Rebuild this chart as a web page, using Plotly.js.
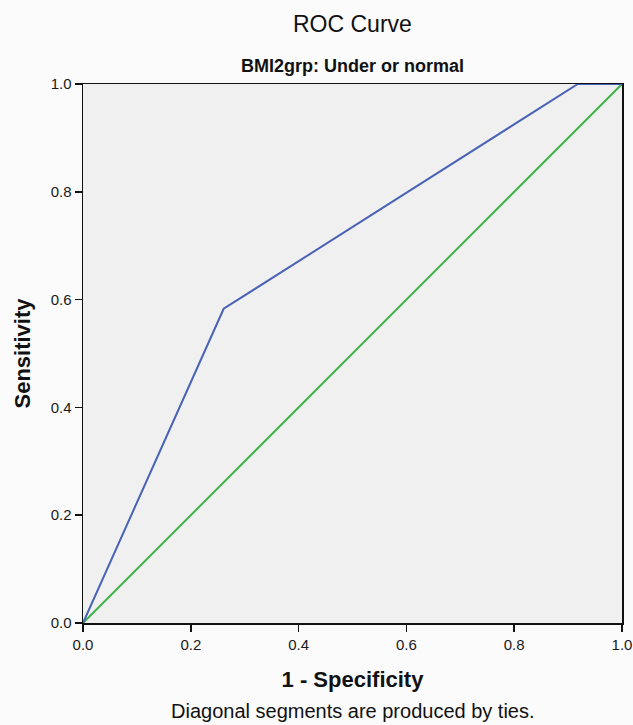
<!DOCTYPE html>
<html>
<head>
<meta charset="utf-8">
<script src="https://cdn.plot.ly/plotly-3.0.1.min.js"></script>
<style>
html,body{margin:0;padding:0;background:#fbfbfc;}
#chart{width:633px;height:725px;}
</style>
</head>
<body>
<div id="chart"></div>
<script>
// ROC curve points (1 - Specificity, Sensitivity)
const rocX = [0.0, 0.261, 0.918, 1.0];
const rocY = [0.0, 0.583, 1.0, 1.0];
// Reference diagonal
const refX = [0.0, 1.0];
const refY = [0.0, 1.0];
const tickVals = [0.0, 0.2, 0.4, 0.6, 0.8, 1.0];
const tickText = ["0.0", "0.2", "0.4", "0.6", "0.8", "1.0"];

const FONT = "Liberation Sans, Arial, sans-serif";

const traces = [
  {x: refX, y: refY, mode: "lines", line: {color: "#3fb54a", width: 2}, hoverinfo: "skip"},
  {x: rocX, y: rocY, mode: "lines", line: {color: "#4862b6", width: 2}, hoverinfo: "skip"}
];

const axisCommon = {
  range: [0, 1],
  tickvals: tickVals,
  ticktext: tickText,
  ticks: "outside",
  ticklen: 7,
  tickwidth: 1.5,
  tickcolor: "#111",
  showline: true,
  linecolor: "#111",
  linewidth: 1.5,
  mirror: true,
  showgrid: false,
  zeroline: false,
  tickfont: {family: FONT, size: 15, color: "#1a1a1a"}
};

const layout = {
  width: 633,
  height: 725,
  paper_bgcolor: "#fbfbfc",
  plot_bgcolor: "#f0f0f0",
  showlegend: false,
  margin: {l: 83, r: 11, t: 84, b: 102},
  xaxis: Object.assign({}, axisCommon, {
    automargin: false,
    title: {text: "<b>1 - Specificity</b>", font: {family: FONT, size: 22, color: "#111"}, standoff: 20}
  }),
  yaxis: Object.assign({}, axisCommon, {
    automargin: false,
    title: {text: "<b>Sensitivity</b>", font: {family: FONT, size: 22, color: "#111"}, standoff: 14}
  }),
  annotations: [
    {text: "ROC Curve", xref: "paper", yref: "paper", x: 0.5, y: 1, yshift: 60, xanchor: "center", yanchor: "middle", showarrow: false,
     font: {family: FONT, size: 23, color: "#111"}},
    {text: "<b>BMI2grp: Under or normal</b>", xref: "paper", yref: "paper", x: 0.5, y: 1, yshift: 18, xanchor: "center", yanchor: "middle", showarrow: false,
     font: {family: FONT, size: 18, color: "#111"}},
    {text: "Diagonal segments are produced by ties.", xref: "paper", yref: "paper", x: 0.5, y: 0, yshift: -88, xanchor: "center", yanchor: "middle", showarrow: false,
     font: {family: FONT, size: 20, color: "#111"}}
  ]
};

Plotly.newPlot("chart", traces, layout, {displayModeBar: false, staticPlot: true});
</script>
</body>
</html>
